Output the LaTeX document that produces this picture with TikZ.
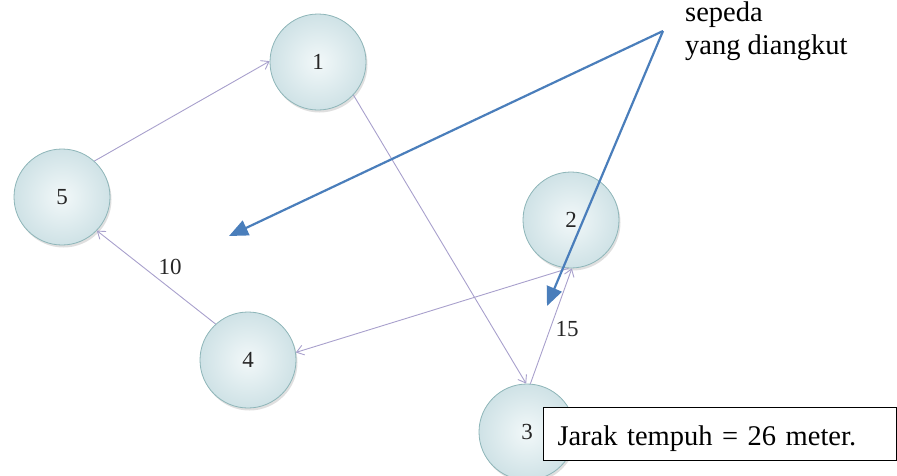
\documentclass[tikz,border=0pt]{standalone}
\usepackage{fontspec}
\newfontfamily\notefont{Liberation Serif}
\usetikzlibrary{arrows.meta, positioning, calc, shadows}

\definecolor{nodeline}{HTML}{8DB5B8}
\definecolor{nodein}{HTML}{F2F8F9}
\definecolor{nodeout}{HTML}{CFE2E6}
\definecolor{edgecol}{HTML}{A8A0CC}
\definecolor{callout}{HTML}{4A7EBB}

\begin{document}
\begin{tikzpicture}[x=1pt, y=-1pt,
    station/.style={circle, draw=nodeline, line width=0.8pt, inner color=nodein, outer color=nodeout,
        minimum size=96pt, inner sep=0pt, text=black!85, font=\notefont\fontsize{23}{26}\selectfont,
        drop shadow={opacity=0.25, shadow xshift=1.5pt, shadow yshift=-2.5pt}},
    route/.style={edgecol, line width=0.9pt, -{Straight Barb[length=7pt, width=10pt]}},
    weight/.style={text=black!85, font=\notefont\fontsize{23}{26}\selectfont},
    pointer/.style={callout, line width=2.2pt, -{Triangle[length=19pt, width=16pt]}},
    note/.style={font=\notefont\fontsize{28.5}{33}\selectfont, inner sep=0pt, align=left}
]
\useasboundingbox (0,0) rectangle (897,475);

% stations
\node[station] (n1) at (318,62) {1};
\node[station] (n5) at (62,197) {5};
\node[station] (n2) at (571,220) {2};
\node[station] (n4) at (248,360) {4};
\node[station] (n3) at (527,432) {3};

% routes
\draw[route] (n5.48) -- (n1.179);
\draw[route] (n1.-43) -- (n3.91);
\draw[route] (n4.132) -- (n5.-44);
\draw[route] (n3.86) -- (n2.-89);
\draw[route] (n2.-93) -- (n4.9);

\node[weight] (w10) at (170,267) {10};
\node[weight] (w15) at (567,329) {15};

% callout
\node[note, anchor=north west] (cap) at (685,2) {sepeda\\yang diangkut};
\coordinate (src) at (663,31);
\coordinate (tipA) at (229,236);
\coordinate (tipB) at (547,306);
\draw[pointer] (src) -- (tipA);
\draw[pointer] (src) -- (tipB);

\node[note, draw=black, line width=1pt, fill=white, anchor=north west, inner xsep=14pt, inner ysep=9pt,
    text width=325pt, text height=29pt, text depth=6pt] (dist) at (543,407) {Jarak tempuh = 26 meter.};
\end{tikzpicture}
\end{document}
